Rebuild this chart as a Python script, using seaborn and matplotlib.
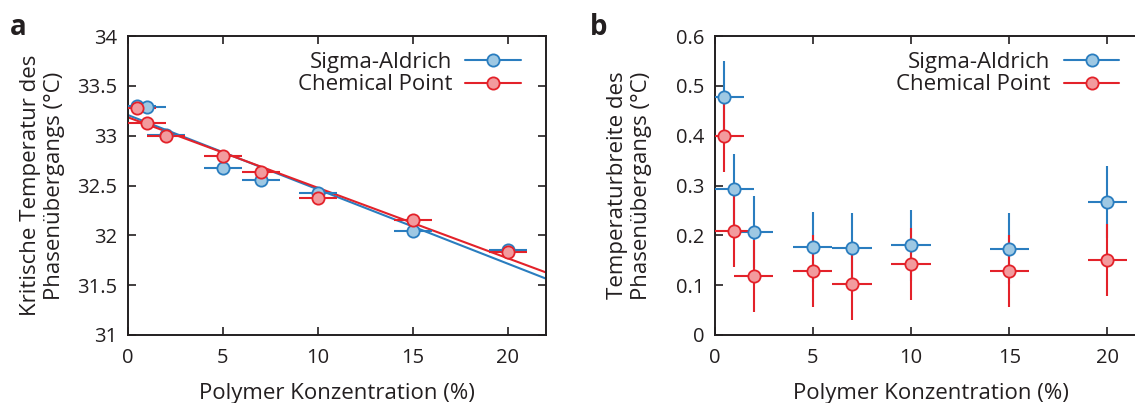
import numpy as np
import matplotlib
matplotlib.use("Agg")
import matplotlib.pyplot as plt
import seaborn as sns
import pandas as pd
from matplotlib.lines import Line2D

# ---------------- data ----------------
series_names = ["Sigma-Aldrich", "Chemical Point"]

conc = [0.5, 1, 2, 5, 7, 10, 15, 20]
conc_err = [1, 1, 1, 1, 1, 1, 1, 1]

# panel a: critical temperature (°C)
tc_sigma = [33.30, 33.29, 33.01, 32.68, 32.56, 32.42, 32.04, 31.85]
tc_chem = [33.28, 33.13, 33.00, 32.80, 32.64, 32.37, 32.15, 31.83]

# panel b: transition width (°C)
w_sigma = [0.477, 0.292, 0.207, 0.177, 0.174, 0.180, 0.173, 0.267]
w_sigma_err = [0.072, 0.071, 0.072, 0.070, 0.071, 0.071, 0.071, 0.072]
w_chem = [0.399, 0.209, 0.119, 0.129, 0.102, 0.143, 0.129, 0.151]
w_chem_err = [0.072, 0.072, 0.072, 0.072, 0.072, 0.072, 0.072, 0.072]

xticks = [0, 5, 10, 15, 20]
xticklabels = ["0", "5", "10", "15", "20"]
yticks_a = [31, 31.5, 32, 32.5, 33, 33.5, 34]
yticklabels_a = ["31", "31.5", "32", "32.5", "33", "33.5", "34"]
yticks_b = [0, 0.1, 0.2, 0.3, 0.4, 0.5, 0.6]
yticklabels_b = ["0", "0.1", "0.2", "0.3", "0.4", "0.5", "0.6"]

xlabel = "Polymer Konzentration (%)"
ylabel_a = "Kritische Temperatur des\nPhasenübergangs (°C)"
ylabel_b = "Temperaturbreite des\nPhasenübergangs (°C)"

# ---------------- style ----------------
sns.set_theme(style="ticks")
plt.rcParams["font.family"] = ["Open Sans", "DejaVu Sans"]
TXT = "#231f20"
FS_LAB = 16
FS_TICK = 14.5
edge = {"Sigma-Aldrich": "#2a7dbf", "Chemical Point": "#e3222a"}
fill = {"Sigma-Aldrich": "#9ec8e3", "Chemical Point": "#f29b9e"}

W, H = 1135, 403
fig = plt.figure(figsize=(W / 100, H / 100), dpi=100)
ax_a = fig.add_axes([127.7 / W, 68 / H, 418 / W, 299 / H])
ax_b = fig.add_axes([714.5 / W, 68 / H, 432.3 / W, 299 / H])

df_a = pd.DataFrame({
    "conc": conc * 2,
    "val": tc_sigma + tc_chem,
    "src": [series_names[0]] * len(conc) + [series_names[1]] * len(conc),
})
df_b = pd.DataFrame({
    "conc": conc * 2,
    "val": w_sigma + w_chem,
    "err": w_sigma_err + w_chem_err,
    "src": [series_names[0]] * len(conc) + [series_names[1]] * len(conc),
})

# panel a
ax_a.set_xlim(0, 22)
ax_a.set_ylim(31, 34)
for name in series_names:
    d = df_a[df_a.src == name]
    sns.regplot(data=d, x="conc", y="val", ax=ax_a, scatter=False, ci=None,
                truncate=False, color=edge[name], line_kws={"lw": 1.5, "zorder": 2})
for name in series_names:
    d = df_a[df_a.src == name]
    ax_a.errorbar(d.conc, d.val, xerr=conc_err, fmt="none", ecolor=edge[name],
                  elinewidth=1.5, capsize=0, zorder=3)
    sns.scatterplot(data=d, x="conc", y="val", ax=ax_a, color=fill[name],
                    edgecolor=edge[name], linewidth=1.3, s=78, zorder=4, legend=False)

# panel b
ax_b.set_xlim(0, 22)
ax_b.set_ylim(0, 0.6)
for name in series_names:
    d = df_b[df_b.src == name]
    ax_b.errorbar(d.conc, d.val, xerr=conc_err, yerr=d.err, fmt="none",
                  ecolor=edge[name], elinewidth=1.5, capsize=0, zorder=3)
    sns.scatterplot(data=d, x="conc", y="val", ax=ax_b, color=fill[name],
                    edgecolor=edge[name], linewidth=1.3, s=78, zorder=4, legend=False)

handles = [Line2D([], [], color=edge[n], lw=1.5, marker="o", markersize=8.8,
                  markerfacecolor=fill[n], markeredgecolor=edge[n], markeredgewidth=1.3)
           for n in series_names]

for ax, yt, ytl, yl, ylx, legx in [(ax_a, yticks_a, yticklabels_a, ylabel_a, -0.150, 0.962),
                                    (ax_b, yticks_b, yticklabels_b, ylabel_b, -0.145, 0.957)]:
    ax.set_xticks(xticks)
    ax.set_xticklabels(xticklabels)
    ax.set_yticks(yt)
    ax.set_yticklabels(ytl)
    ax.tick_params(direction="in", length=6, width=1.2, colors=TXT,
                   labelsize=FS_TICK, top=True, right=True)
    ax.tick_params(axis="x", pad=9.5)
    ax.tick_params(axis="y", pad=7.5)
    for sp in ax.spines.values():
        sp.set_visible(True)
        sp.set_linewidth(1.4)
        sp.set_color(TXT)
    ax.set_xlabel(xlabel, fontsize=FS_LAB, color=TXT)
    ax.xaxis.set_label_coords(0.5, -0.160)
    ax.set_ylabel(yl, fontsize=FS_LAB, color=TXT)
    ax.yaxis.set_label_coords(ylx, 0.5)
    leg = ax.legend(handles, series_names, loc="upper right", markerfirst=False,
                    bbox_to_anchor=(legx, 0.977), borderaxespad=0.0,
                    frameon=False, fontsize=FS_LAB, handlelength=2.5, handletextpad=0.6,
                    labelspacing=0.07)
    for t in leg.get_texts():
        t.set_color(TXT)
        t.set_ha("right")

fig.text(10 / W, 1 - 35 / H, "a", fontsize=20, fontweight="bold", color=TXT, va="baseline")
fig.text(590 / W, 1 - 35 / H, "b", fontsize=20, fontweight="bold", color=TXT, va="baseline")

fig.savefig("out.png", dpi=100)
